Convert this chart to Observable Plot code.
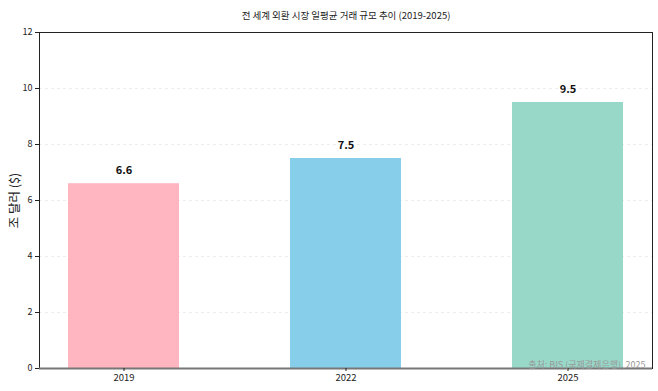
<!DOCTYPE html>
<html>
<head>
<meta charset="utf-8">
<script src="https://cdn.jsdelivr.net/npm/d3@7"></script>
<script src="https://cdn.jsdelivr.net/npm/@observablehq/plot@0.6"></script>
<style>
  body { margin: 0; background: #fff; }
  svg { font-family: "Noto Sans CJK KR", "Noto Sans", sans-serif; }
</style>
</head>
<body>
<div id="chart"></div>
<script>
const years = ["2019", "2022", "2025"];
const values = [6.6, 7.5, 9.5];
const colors = ["#FFB6C1", "#87CEEB", "#98D8C8"];
const yTicks = [0, 2, 4, 6, 8, 10, 12];
const title = "전 세계 외환 시장 일평균 거래 규모 추이 (2019-2025)";
const yLabel = "조 달러 ($)";
const caption = "출처: BIS (국제결제은행), 2025";

const data = years.map((y, i) => ({year: y, value: values[i], color: colors[i]}));

const chart = Plot.plot({
  width: 658,
  height: 391,
  marginLeft: 39,
  marginRight: 6,
  marginTop: 32,
  marginBottom: 23,
  style: {fontFamily: '"Noto Sans CJK KR", "Noto Sans", sans-serif', background: "#fff", color: "#222"},
  x: {domain: years, paddingInner: 0.5, paddingOuter: 0.13, label: null},
  y: {domain: [0, 12], label: null},
  marks: [
    Plot.gridY(yTicks, {stroke: "#000", strokeOpacity: 0.07, strokeDasharray: "3,3"}),
    Plot.barY(data, {x: "year", y: "value", fill: "color"}),
    Plot.frame({stroke: "#222", strokeWidth: 1}),
    Plot.ruleY([0], {stroke: "#777", strokeWidth: 2}),
    Plot.axisY(yTicks, {tickSize: 4, fontSize: 9, tickPadding: 3, label: null}),
    Plot.axisX({tickSize: 3, fontSize: 9.5, tickPadding: 3, label: null}),
    Plot.text([yLabel], {frameAnchor: "left", textAnchor: "middle", rotate: -90, dx: -25, fontSize: 12.5, fill: "#222"}),
    Plot.text(data, {x: "year", y: "value", text: d => d.value.toFixed(1), dy: -13, fontSize: 11, fontWeight: "bold", fill: "#111"}),
    Plot.text([title], {frameAnchor: "top", dy: -20, fontSize: 9.5, fill: "#222"}),
    Plot.text([caption], {frameAnchor: "bottom-right", textAnchor: "end", dx: -7, dy: -1, fontSize: 9, fill: "#999"})
  ]
});
document.getElementById("chart").appendChild(chart);
</script>
</body>
</html>
